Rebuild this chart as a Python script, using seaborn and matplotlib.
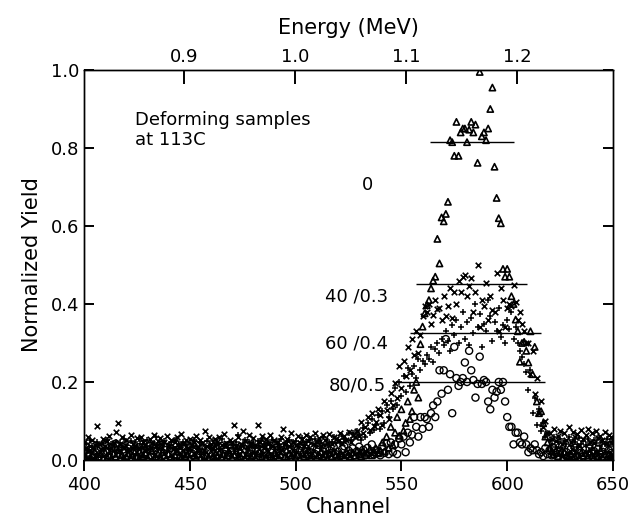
import matplotlib
matplotlib.use("Agg")
import matplotlib.pyplot as plt
import seaborn as sns
import pandas as pd

# ---------------- data ----------------
CHANNEL = list(range(400, 651))

# series "0" (triangles)
Y_0 = [
    .010, .004, .018, .006, .012, .022, .003, .008, .015, .005,
    .020, .007, .011, .003, .016, .009, .025, .006, .013, .004,
    .009, .017, .005, .012, .021, .007, .003, .014, .010, .019,
    .006, .011, .024, .004, .009, .015, .007, .020, .012, .005,
    .016, .008, .003, .013, .022, .010, .006, .018, .009, .014,
    .005, .019, .011, .007, .015, .004, .023, .010, .013, .006,
    .017, .009, .005, .012, .020, .008, .014, .003, .011, .018,
    .007, .013, .024, .006, .010, .016, .004, .012, .019, .008,
    .011, .005, .017, .021, .009, .013, .006, .015, .010, .004,
    .018, .012, .007, .014, .022, .009, .005, .016, .011, .020,
    .008, .013, .004, .019, .010, .015, .025, .007, .012, .017,
    .006, .011, .020, .009, .014, .005, .018, .010, .023, .013,
    .008, .016, .012, .006, .021, .014, .009, .019, .011, .024,
    .015, .010, .022, .013, .018, .027, .012, .020, .030, .017,
    .025, .045, .022, .060, .031, .085, .038, .070, .110, .062,
    .130, .075, .095, .150, .105, .125, .180, .200, .160, .297,
    .342, .376, .397, .410, .440, .460, .470, .567, .504, .622,
    .612, .631, .662, .820, .815, .780, .867, .780, .840, .850,
    .850, .815, .847, .867, .840, .860, .762, .995, .830, .840,
    .820, .850, .900, .955, .752, .672, .620, .607, .490, .470,
    .490, .470, .420, .400, .360, .330, .252, .300, .303, .280,
    .250, .330, .220, .290, .150, .120, .125, .094, .060, .045,
    .030, .022, .015, .025, .010, .018, .006, .020, .012, .008,
    .016, .023, .009, .013, .005, .019, .011, .017, .007, .021,
    .012, .006, .018, .010, .024, .008, .014, .004, .016, .011,
    .009,
]

# series "40/0.3" (x marks)
Y_40 = [
    .045, .030, .060, .025, .052, .038, .087, .042, .028, .055,
    .035, .048, .062, .030, .044, .072, .096, .040, .058, .033,
    .050, .027, .064, .041, .036, .056, .031, .060, .046, .038,
    .029, .053, .043, .063, .035, .049, .057, .032, .045, .061,
    .037, .052, .028, .047, .059, .034, .066, .041, .050, .030,
    .055, .039, .046, .062, .033, .051, .044, .075, .036, .058,
    .042, .031, .054, .047, .060, .038, .067, .043, .029, .052,
    .045, .090, .036, .058, .040, .075, .049, .033, .063, .044,
    .056, .038, .090, .046, .061, .034, .053, .042, .064, .037,
    .050, .045, .031, .059, .080, .041, .055, .036, .068, .047,
    .039, .062, .044, .053, .035, .065, .048, .058, .042, .070,
    .046, .057, .037, .063, .051, .043, .066, .040, .059, .054,
    .048, .068, .044, .061, .052, .071, .047, .064, .058, .075,
    .062, .098, .070, .085, .110, .078, .120, .088, .098, .130,
    .115, .090, .150, .128, .105, .172, .140, .198, .160, .240,
    .185, .255, .215, .290, .230, .310, .268, .330, .275, .320,
    .370, .395, .380, .400, .350, .372, .410, .388, .390, .360,
    .420, .370, .395, .440, .365, .430, .400, .460, .430, .470,
    .475, .420, .445, .467, .380, .430, .500, .340, .410, .395,
    .455, .360, .420, .385, .380, .480, .330, .440, .410, .340,
    .390, .400, .395, .450, .405, .360, .380, .350, .330, .300,
    .300, .220, .280, .170, .210, .120, .150, .085, .100, .070,
    .070, .055, .080, .048, .062, .075, .041, .068, .052, .085,
    .046, .072, .058, .066, .039, .077, .054, .063, .080, .047,
    .069, .044, .074, .056, .062, .050, .071, .043, .065, .058,
    .052,
]

# series "60/0.4" (plus marks)
Y_60 = [
    .030, .042, .022, .050, .035, .027, .046, .038, .024, .044,
    .032, .051, .028, .040, .036, .047, .025, .043, .034, .053,
    .039, .026, .048, .031, .045, .037, .055, .029, .041, .033,
    .050, .035, .027, .044, .060, .030, .042, .038, .049, .024,
    .036, .046, .031, .052, .028, .040, .034, .047, .039, .025,
    .043, .033, .050, .037, .029, .045, .041, .026, .048, .035,
    .031, .049, .038, .044, .027, .053, .036, .040, .030, .046,
    .039, .028, .047, .065, .034, .042, .051, .032, .045, .037,
    .044, .030, .049, .036, .053, .041, .027, .046, .038, .050,
    .033, .047, .040, .055, .029, .043, .037, .052, .035, .045,
    .048, .034, .042, .056, .038, .046, .031, .051, .040, .053,
    .037, .049, .044, .058, .035, .052, .041, .047, .060, .043,
    .050, .046, .062, .055, .048, .068, .052, .070, .058, .075,
    .065, .050, .082, .060, .095, .070, .105, .078, .090, .115,
    .080, .125, .095, .140, .110, .150, .130, .185, .140, .200,
    .165, .215, .175, .235, .190, .220, .240, .210, .260, .230,
    .255, .245, .270, .260, .290, .250, .285, .300, .275, .310,
    .295, .330, .305, .280, .345, .320, .360, .300, .340, .380,
    .310, .355, .295, .365, .325, .400, .340, .375, .290, .350,
    .330, .410, .370, .305, .355, .330, .390, .315, .345, .300,
    .360, .335, .380, .310, .340, .300, .280, .265, .245, .225,
    .180, .230, .120, .160, .090, .130, .075, .095, .060, .070,
    .050, .040, .058, .034, .046, .055, .030, .048, .042, .060,
    .036, .052, .045, .033, .057, .041, .049, .038, .054, .044,
    .031, .050, .043, .056, .037, .047, .040, .053, .035, .046,
    .042,
]

# series "80/0.5" (open circles)
Y_80 = [
    .020, .035, .012, .028, .040, .015, .025, .008, .032, .018,
    .038, .022, .010, .030, .016, .042, .026, .013, .034, .020,
    .011, .029, .037, .017, .024, .009, .033, .021, .041, .014,
    .027, .036, .012, .023, .031, .018, .039, .010, .026, .034,
    .015, .030, .021, .043, .013, .028, .019, .035, .011, .024,
    .032, .017, .027, .038, .014, .022, .030, .012, .040, .025,
    .018, .033, .010, .029, .021, .036, .016, .026, .013, .039,
    .023, .015, .031, .020, .034, .011, .028, .037, .017, .024,
    .012, .030, .022, .016, .041, .027, .019, .033, .010, .025,
    .035, .018, .028, .014, .032, .021, .038, .012, .026, .019,
    .030, .013, .024, .036, .017, .029, .011, .020, .034, .016,
    .027, .039, .014, .022, .031, .012, .025, .018, .033, .015,
    .021, .010, .028, .035, .013, .024, .017, .030, .012, .022,
    .034, .016, .026, .012, .031, .019, .040, .014, .025, .020,
    .012, .035, .018, .042, .015, .045, .020, .040, .015, .055,
    .040, .060, .020, .070, .045, .065, .110, .085, .060, .110,
    .080, .110, .105, .085, .120, .140, .110, .150, .230, .170,
    .230, .310, .180, .220, .120, .290, .210, .190, .200, .210,
    .250, .200, .280, .230, .205, .160, .195, .265, .195, .205,
    .200, .150, .130, .180, .160, .175, .200, .180, .200, .150,
    .110, .085, .085, .040, .070, .070, .045, .040, .060, .040,
    .020, .030, .025, .040, .025, .015, .020, .010, .030, .015,
    .025, .012, .030, .018, .008, .022, .035, .014, .020, .010,
    .028, .016, .032, .011, .024, .019, .009, .026, .013, .030,
    .017, .023, .010, .029, .014, .021, .033, .012, .025, .018,
    .015,
]

SERIES_LABELS = ["0", "40 /0.3", "60 /0.4", "80/0.5"]
MEAN_LEVEL = [0.816, 0.451, 0.325, 0.201]
MEAN_START = [563.5, 556.7, 553.9, 546.3]
MEAN_END = [603.3, 609.4, 615.8, 617.8]
LABEL_X = [534.0, 529.0, 529.0, 529.0]
LABEL_Y = [0.705, 0.418, 0.300, 0.192]

X_TICKS = [400, 450, 500, 550, 600, 650]
Y_TICKS = [0.0, 0.2, 0.4, 0.6, 0.8, 1.0]
E_TICKS = [0.9, 1.0, 1.1, 1.2]
E_REF = 0.9             # energy calibration: 0.9 MeV ...
CH_REF = 447.2          # ... at this channel
CH_PER_MEV = 525.0      # channels per MeV
X_MIN, X_MAX = 400, 650

# ---------------- plotting ----------------
sns.set_style("ticks")
plt.rcParams["font.family"] = ["DejaVu Sans"]
plt.rcParams["axes.linewidth"] = 1.0
plt.rcParams["text.color"] = "black"
plt.rcParams["axes.labelcolor"] = "black"
plt.rcParams["xtick.color"] = "black"
plt.rcParams["ytick.color"] = "black"

fig = plt.figure(figsize=(6.31, 5.21), dpi=100)
ax = fig.add_axes([0.1331, 0.1171, 0.8384, 0.7485])

df = pd.DataFrame({"Channel": CHANNEL, "y0": Y_0, "y40": Y_40,
                   "y60": Y_60, "y80": Y_80})

sns.scatterplot(data=df, x="Channel", y="y80", marker="o", s=26,
                facecolor="none", edgecolor="black", linewidth=1.0, ax=ax)
sns.scatterplot(data=df, x="Channel", y="y60", marker="+", s=24,
                color="black", linewidth=1.1, ax=ax)
sns.scatterplot(data=df, x="Channel", y="y40", marker="x", s=16,
                color="black", linewidth=1.2, ax=ax)
sns.scatterplot(data=df, x="Channel", y="y0", marker="^", s=20,
                facecolor="none", edgecolor="black", linewidth=1.2, ax=ax)

for lev, x0, x1 in zip(MEAN_LEVEL, MEAN_START, MEAN_END):
    ax.hlines(lev, x0, x1, color="black", linewidth=1.0)

for lab, lx, ly in zip(SERIES_LABELS, LABEL_X, LABEL_Y):
    ax.text(lx, ly, lab, ha="center", va="center", fontsize=13,
            color="black")

ax.text(424, 0.846, "Deforming samples\nat 113C", ha="left", va="center",
        fontsize=13, linespacing=1.2, color="black")

ax.set_xlim(X_MIN, X_MAX)
ax.set_ylim(0, 1.0)
ax.set_xticks(X_TICKS)
ax.set_yticks(Y_TICKS)
ax.set_yticklabels([f"{v:.1f}" for v in Y_TICKS])
ax.set_xlabel("Channel", fontsize=15, labelpad=2, color="black")
ax.set_ylabel("Normalized Yield", fontsize=15, labelpad=6, color="black")
ax.tick_params(axis="x", direction="out", length=8, width=1.4,
               labelsize=13, top=False, colors="black")
ax.tick_params(axis="y", direction="in", length=7, width=1.4,
               labelsize=13, left=True, right=True, colors="black")
for sp in ax.spines.values():
    sp.set_visible(True)
    sp.set_color("black")


def ch2e(c):
    return E_REF + (c - CH_REF) / CH_PER_MEV


# top energy axis (twin), ticks pointing into the plot
top = ax.twiny()
top.set_xlim(ch2e(X_MIN), ch2e(X_MAX))
top.set_xticks(E_TICKS)
top.set_xticklabels([f"{v:.1f}" for v in E_TICKS])
top.tick_params(axis="x", top=True, bottom=False, labeltop=True,
                labelbottom=False, direction="in", length=10, width=1.4,
                labelsize=13, pad=3, colors="black")
top.set_xlabel("Energy (MeV)", fontsize=15, labelpad=10, color="black")
for sp in top.spines.values():
    sp.set_color("black")

fig.savefig("out.png", dpi=100)
